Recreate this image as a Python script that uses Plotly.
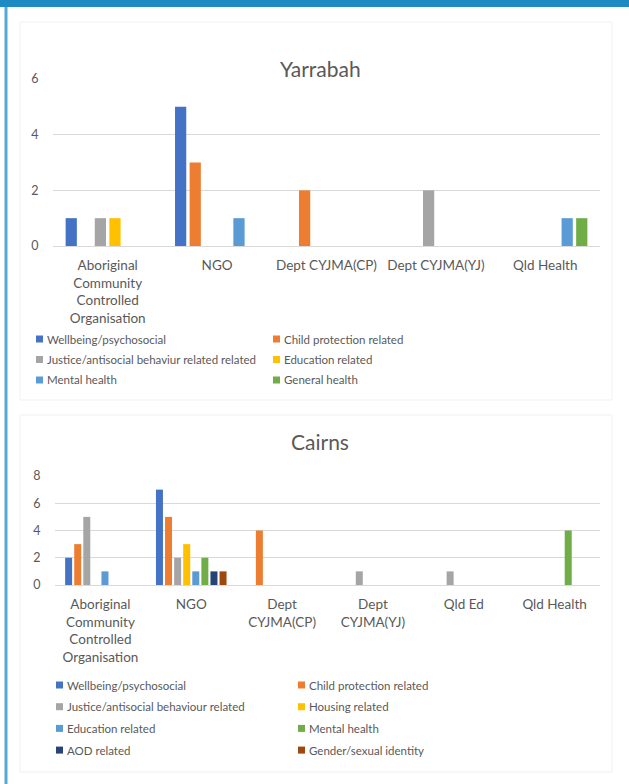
import plotly.graph_objects as go

W, H = 629, 784

# ---- Yarrabah data ----
yarrabah_categories = [
    "Aboriginal<br>Community<br>Controlled<br>Organisation",
    "NGO", "Dept CYJMA(CP)", "Dept CYJMA(YJ)", "Qld Health",
]
yarrabah_series = [
    "Wellbeing/psychosocial",
    "Child protection related",
    "Justice/antisocial behaviur related related",
    "Education related",
    "Mental health",
    "General health",
]
yarrabah_wellbeing = [1, 5, 0, 0, 0]
yarrabah_child_protection = [0, 3, 2, 0, 0]
yarrabah_justice = [1, 0, 0, 2, 0]
yarrabah_education = [1, 0, 0, 0, 0]
yarrabah_mental_health = [0, 1, 0, 0, 1]
yarrabah_general_health = [0, 0, 0, 0, 1]
yarrabah_colors = ["#4472C4", "#ED7D31", "#A5A5A5", "#FFC000", "#5B9BD5", "#70AD47"]

# ---- Cairns data ----
cairns_categories = [
    "Aboriginal<br>Community<br>Controlled<br>Organisation",
    "NGO", "Dept<br>CYJMA(CP)", "Dept<br>CYJMA(YJ)", "Qld Ed", "Qld Health",
]
cairns_series = [
    "Wellbeing/psychosocial",
    "Child protection related",
    "Justice/antisocial behaviour related",
    "Housing related",
    "Education related",
    "Mental health",
    "AOD related",
    "Gender/sexual identity",
]
cairns_wellbeing = [2, 7, 0, 0, 0, 0]
cairns_child_protection = [3, 5, 4, 0, 0, 0]
cairns_justice = [5, 2, 0, 1, 1, 0]
cairns_housing = [0, 3, 0, 0, 0, 0]
cairns_education = [1, 1, 0, 0, 0, 0]
cairns_mental_health = [0, 2, 0, 0, 0, 4]
cairns_aod = [0, 1, 0, 0, 0, 0]
cairns_gender = [0, 1, 0, 0, 0, 0]
cairns_colors = ["#4472C4", "#ED7D31", "#A5A5A5", "#FFC000", "#5B9BD5", "#70AD47",
                 "#264478", "#9E480E"]

yarrabah_values = [yarrabah_wellbeing, yarrabah_child_protection, yarrabah_justice,
                   yarrabah_education, yarrabah_mental_health, yarrabah_general_health]
cairns_values = [cairns_wellbeing, cairns_child_protection, cairns_justice, cairns_housing,
                 cairns_education, cairns_mental_health, cairns_aod, cairns_gender]

FONT = "Lato, 'Open Sans', sans-serif"
TEXT = "#595959"
GRID = "#D9D9D9"


def px(x):
    return x / W


def py(y):
    return 1 - y / H


fig = go.Figure()

for name, vals, col in zip(yarrabah_series, yarrabah_values, yarrabah_colors):
    fig.add_trace(go.Bar(x=yarrabah_categories, y=vals, name=name,
                         marker=dict(color=col, line=dict(width=0)),
                         xaxis="x", yaxis="y", showlegend=False))

for name, vals, col in zip(cairns_series, cairns_values, cairns_colors):
    fig.add_trace(go.Bar(x=cairns_categories, y=vals, name=name,
                         marker=dict(color=col, line=dict(width=0)),
                         xaxis="x2", yaxis="y2", showlegend=False))

common_x = dict(type="category", showgrid=False, showline=False, zeroline=False,
                automargin=False,
                ticks="outside", ticklen=7, tickcolor="rgba(0,0,0,0)",
                tickfont=dict(family=FONT, size=13.5, color=TEXT), fixedrange=True)
common_y = dict(showgrid=True, gridcolor=GRID, gridwidth=1, zeroline=True,
                zerolinecolor=GRID, zerolinewidth=1, showline=False, dtick=2,
                automargin=False,
                ticks="outside", ticklen=11, tickcolor="rgba(0,0,0,0)",
                tickfont=dict(family=FONT, size=12.5, color=TEXT), fixedrange=True)

shapes = []
annotations = []

# page frame: blue heading band and left rule
shapes.append(dict(type="rect", xref="paper", yref="paper", x0=0, x1=1,
                   y0=py(7), y1=1, fillcolor="#1D8AC4", line=dict(width=0), layer="above"))
shapes.append(dict(type="rect", xref="paper", yref="paper", x0=px(4.5), x1=px(7.5),
                   y0=0, y1=py(7), fillcolor="#55A9DA", line=dict(width=0), layer="above"))

# chart panels
for top, bottom in [(22, 400), (415, 772)]:
    shapes.append(dict(type="rect", xref="paper", yref="paper", x0=px(20), x1=px(612),
                       y0=py(bottom), y1=py(top), fillcolor="white",
                       line=dict(color="#F1F1F1", width=1), layer="below"))

# chart titles
annotations.append(dict(text="Yarrabah", xref="paper", yref="paper", x=px(320), y=py(69),
                        showarrow=False, xanchor="center", yanchor="middle",
                        font=dict(family=FONT, size=21, color=TEXT)))
annotations.append(dict(text="Cairns", xref="paper", yref="paper", x=px(320), y=py(441),
                        showarrow=False, xanchor="center", yanchor="middle",
                        font=dict(family=FONT, size=21, color=TEXT)))


def add_legend(names, colors, marker_x, text_dx, col_dx, row_y, row_dy):
    for i, (name, col) in enumerate(zip(names, colors)):
        r, c = divmod(i, 2)
        x0 = marker_x + c * col_dx
        yc = row_y + r * row_dy
        shapes.append(dict(type="rect", xref="paper", yref="paper",
                           x0=px(x0), x1=px(x0 + 7), y0=py(yc + 3.5), y1=py(yc - 3.5),
                           fillcolor=col, line=dict(width=0)))
        annotations.append(dict(text=name, xref="paper", yref="paper",
                                x=px(x0 + text_dx), y=py(yc), showarrow=False,
                                xanchor="left", yanchor="middle",
                                font=dict(family=FONT, size=11.5, color=TEXT)))


add_legend(yarrabah_series, yarrabah_colors, 36, 9, 237, 339, 20.5)
add_legend(cairns_series, cairns_colors, 56, 9, 242, 685, 21.7)

fig.update_layout(
    width=W, height=H,
    margin=dict(l=0, r=0, t=0, b=0, autoexpand=False),
    paper_bgcolor="white", plot_bgcolor="rgba(0,0,0,0)",
    barmode="group", bargap=0.2, bargroupgap=0.23,
    showlegend=False,
    xaxis=dict(common_x, domain=[px(53), px(600)], anchor="y"),
    yaxis=dict(common_y, range=[0, 6], domain=[py(246), py(79)], anchor="x"),
    xaxis2=dict(common_x, domain=[px(55), px(600)], anchor="y2"),
    yaxis2=dict(common_y, range=[0, 8], domain=[py(585), py(476)], anchor="x2"),
    shapes=shapes,
    annotations=annotations,
)

fig.write_html("out.html")
